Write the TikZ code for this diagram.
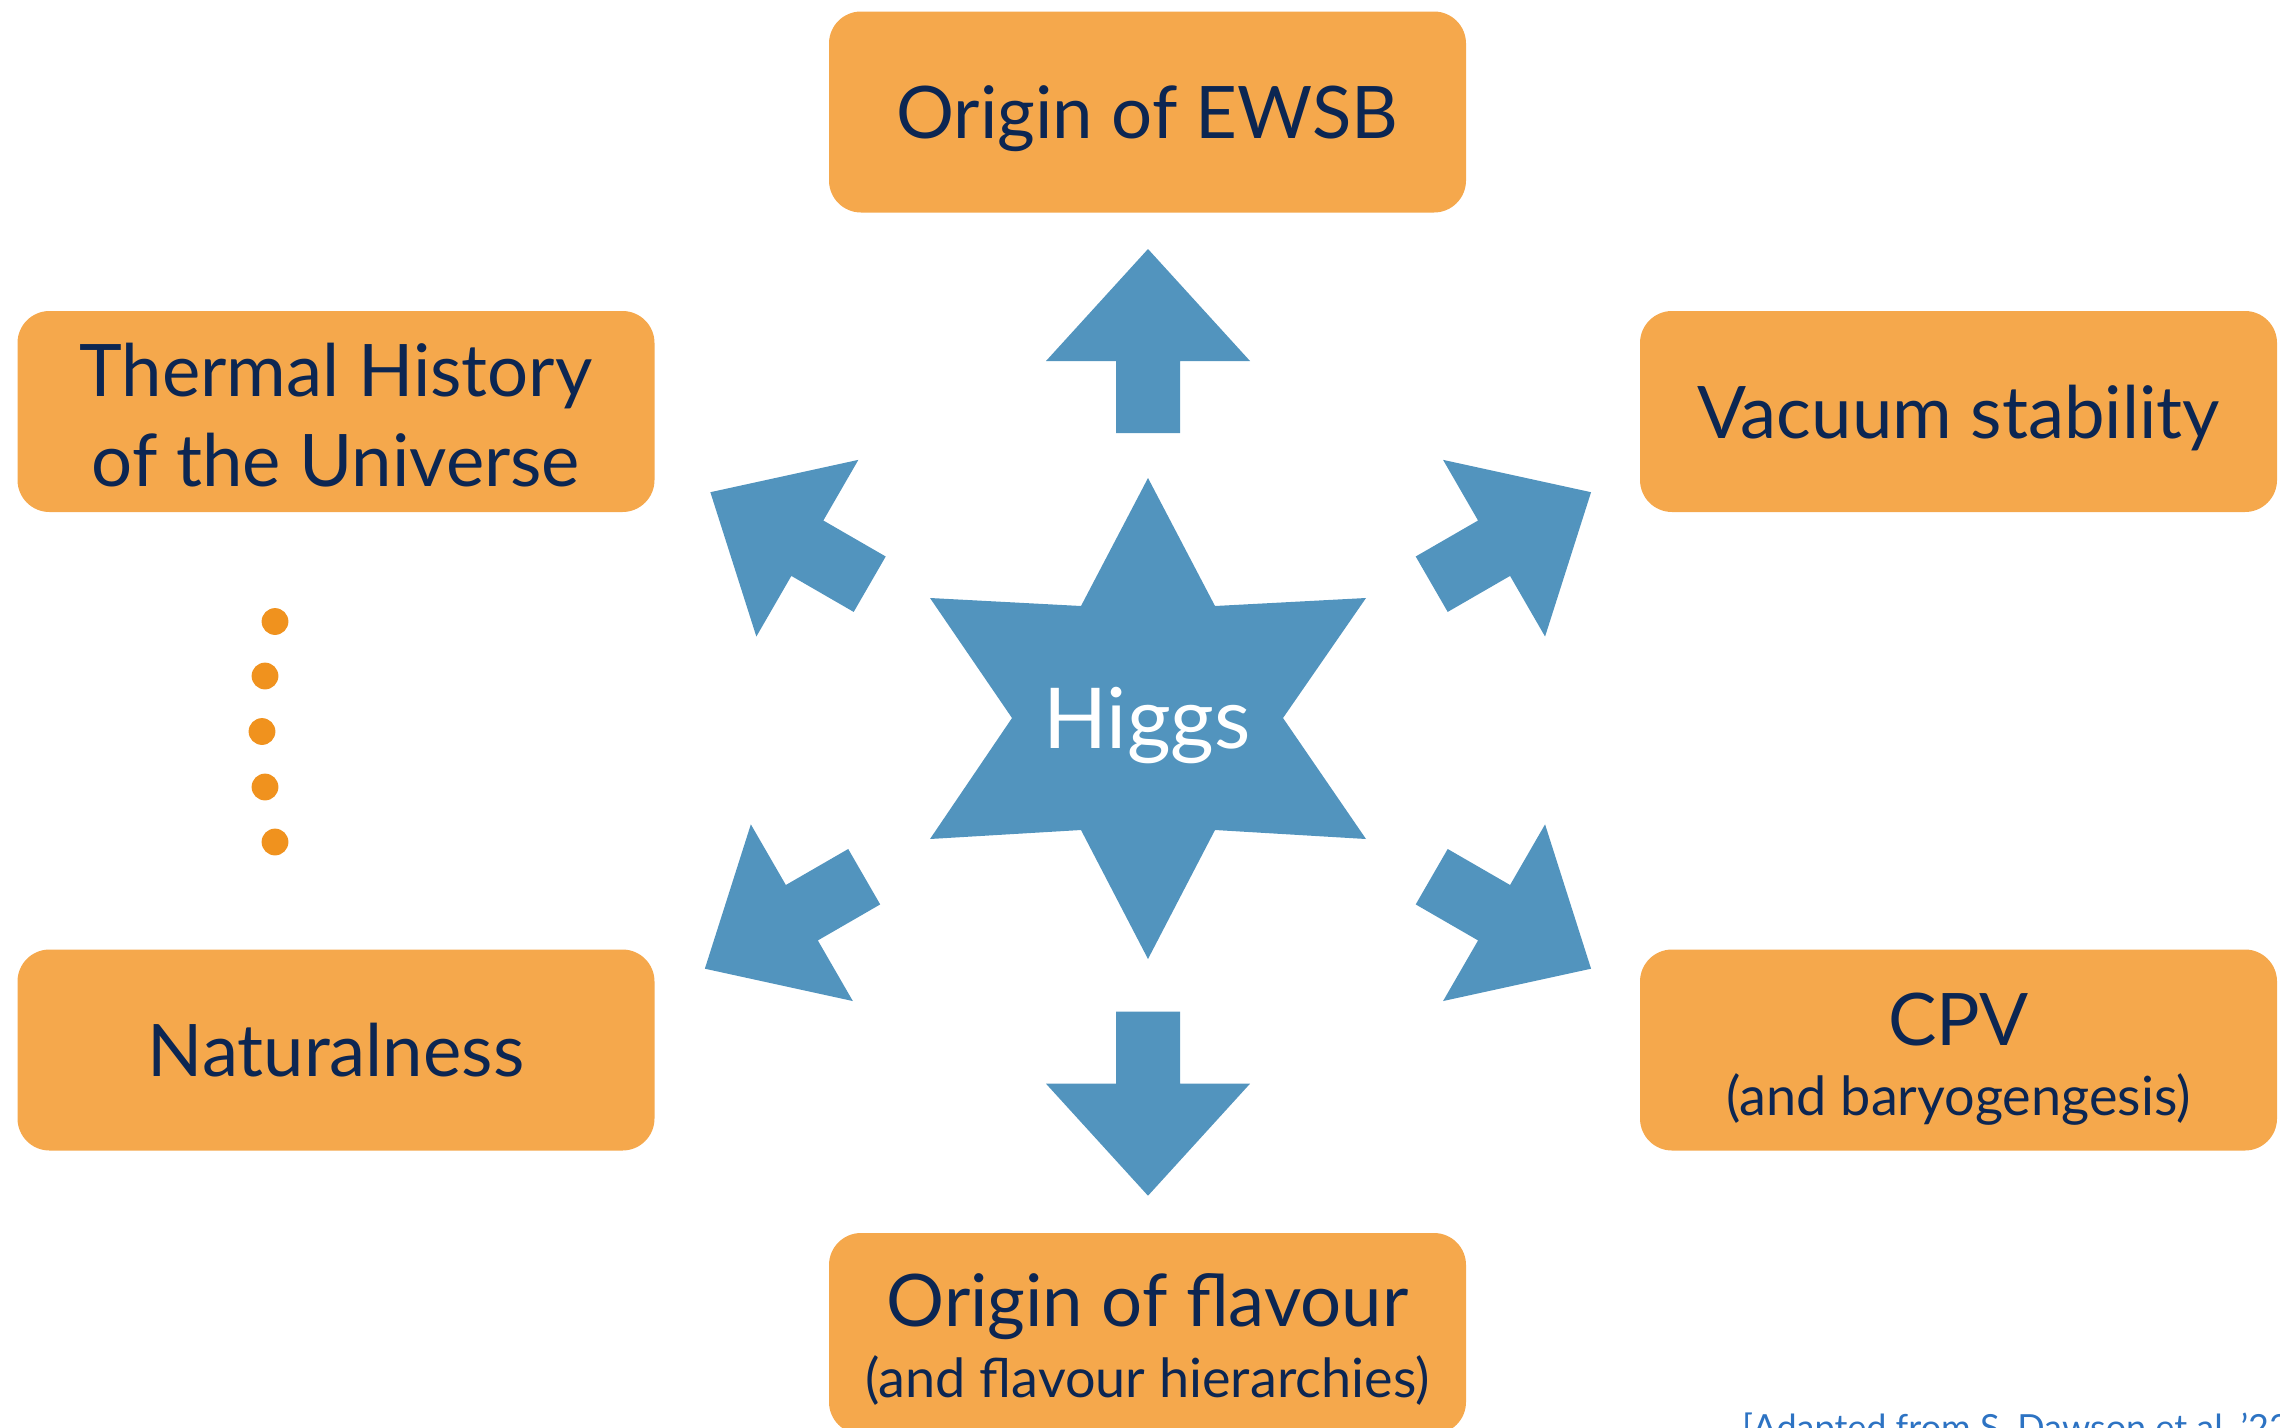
\documentclass[tikz,border=0pt]{standalone}
\usepackage{fontspec}
\setmainfont{Lato}
\usepackage{tikz}
\usetikzlibrary{positioning}
\definecolor{boxorange}{RGB}{245,168,76}
\definecolor{higgsblue}{RGB}{82,148,190}
\definecolor{textnavy}{RGB}{12,38,82}
\definecolor{dotorange}{RGB}{240,146,30}
\definecolor{refblue}{RGB}{45,115,195}
\begin{document}
\begin{tikzpicture}[x=1pt, y=-1pt,
    topic/.style={fill=boxorange, rounded corners=32pt, minimum width=637pt, minimum height=201pt, inner sep=0pt},
    bigtext/.style={anchor=base, text=textnavy, font=\fontsize{72.5}{88}\selectfont},
    smalltext/.style={anchor=base, text=textnavy, font=\fontsize{54}{64}\selectfont},
    pics/bigarrow/.style={code={\fill[higgsblue] (0,-32) -- (72,-32) -- (72,-102) -- (184,0) -- (72,102) -- (72,32) -- (0,32) -- cycle;}}]
    \clip (0,0) rectangle (2280,1427);
    \node[topic] (ewsb) at (1147.5,112) {};
    \node[topic] (thermal) at (336,411.5) {};
    \node[topic] (vacuum) at (1958.5,411.5) {};
    \node[topic] (natural) at (336,1050) {};
    \node[topic] (cpv) at (1958.5,1050) {};
    \node[topic] (flavour) at (1147.5,1333.5) {};
    \node[bigtext] (ewsbtext) at (1147.5,138) {Origin of EWSB};
    \node[bigtext] (thermaltop) at (336,396) {Thermal History};
    \node[bigtext] (thermalbot) at (336,486) {of the Universe};
    \node[bigtext] (vacuumtext) at (1958.5,438) {Vacuum stability};
    \node[bigtext] (naturaltext) at (336,1076) {Naturalness};
    \node[bigtext] (cpvtext) at (1958.5,1045) {CPV};
    \node[smalltext] (cpvsub) at (1958.5,1115) {(and baryogengesis)};
    \node[bigtext] (flavourtext) at (1147.5,1326) {Origin of flavour};
    \node[smalltext] (flavoursub) at (1147.5,1397) {(and flavour hierarchies)};
    \fill[higgsblue] (1148,478) -- (1215,606) -- (1366,598) -- (1283,718) -- (1366,839) -- (1215,830)
        -- (1148,959) -- (1081,830) -- (930,839) -- (1012,718) -- (930,598) -- (1081,606) -- cycle;
    \node[anchor=base, text=white, font=\fontsize{84}{100}\selectfont] (higgs) at (1147,748) {Higgs};
    \pic[rotate=90] at (1148,433) {bigarrow};
    \pic[rotate=270] at (1148,1011.7) {bigarrow};
    \pic[rotate=150] at (869.7,584.2) {bigarrow};
    \pic[rotate=30] at (1431.7,584.2) {bigarrow};
    \pic[rotate=210] at (864.2,876.7) {bigarrow};
    \pic[rotate=330] at (1431.7,876.7) {bigarrow};
    \foreach \px/\py in {275/621.5, 265/676, 262/731.5, 265/787, 275/842}
        \fill[dotorange] (\px,\py) circle[radius=13.4pt];
    \node[anchor=base west, inner sep=0pt, text=refblue, font=\fontsize{36}{40}\selectfont] (source) at (1742,1440) {[Adapted from S.~Dawson et al.~'22]};
\end{tikzpicture}
\end{document}
